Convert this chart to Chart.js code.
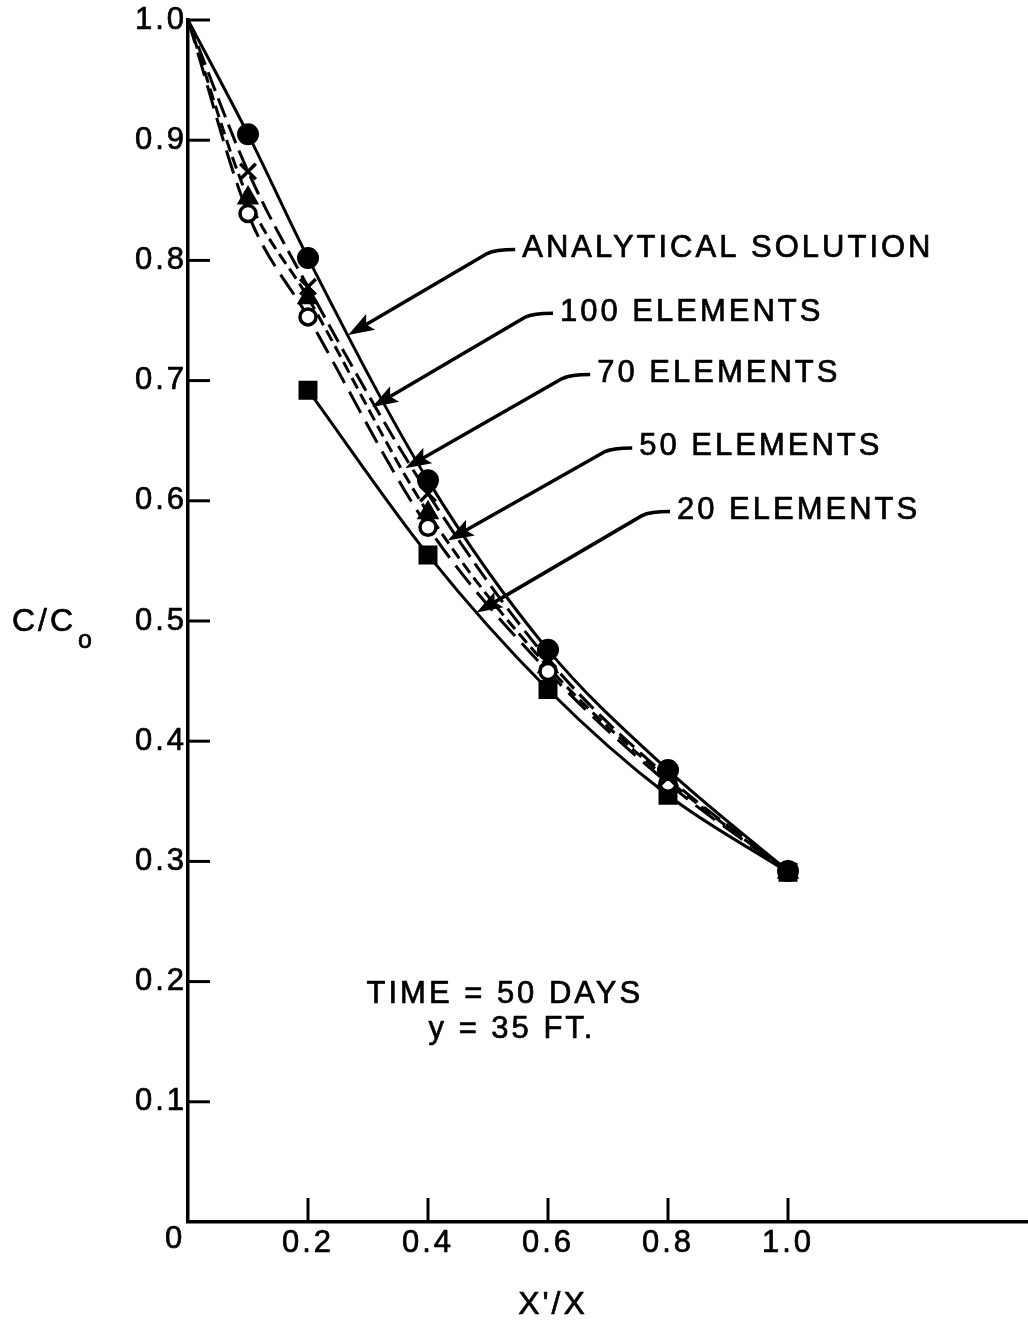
<!DOCTYPE html>
<html>
<head>
<meta charset="utf-8">
<script src="https://cdn.jsdelivr.net/npm/chart.js@4.4.1/dist/chart.umd.min.js"></script>
<style>
  html, body { margin: 0; padding: 0; background: #fff; overflow: hidden; }
  #wrap { width: 1028px; height: 1325px; }
  #chart { display: block; }
</style>
</head>
<body>
<div id="wrap"><canvas id="chart" width="1028" height="1325"></canvas></div>
<script>
// distance along the strip and relative concentration
const xPos = [0, 0.1, 0.2, 0.4, 0.6, 0.8, 1.0];
const analytical = [1.0, 0.905, 0.802, 0.617, 0.476, 0.376, 0.292];
const elements100 = [1.0, 0.874, 0.778, 0.606, 0.468, 0.370, 0.292];
const elements70 = [1.0, 0.839, 0.753, 0.578, 0.458, 0.365, 0.291];
const elements50 = [1.0, 0.852, 0.769, 0.590, 0.462, 0.368, 0.291];
const xPos20 = [0.2, 0.4, 0.6, 0.8, 1.0];
const elements20 = [0.692, 0.555, 0.443, 0.355, 0.291];

const yTicks = [0.1, 0.2, 0.3, 0.4, 0.5, 0.6, 0.7, 0.8, 0.9, 1.0];
const xTicks = [0.2, 0.4, 0.6, 0.8, 1.0];

// callouts: label, arrow tip and leader knee in data units
const callouts = [
    { text: 'ANALYTICAL SOLUTION', tip: [0.267, 0.738], knee: [0.512, 0.809] },
    { text: '100 ELEMENTS', tip: [0.307, 0.678], knee: [0.575, 0.756] },
    { text: '70 ELEMENTS', tip: [0.362, 0.627], knee: [0.637, 0.705] },
    { text: '50 ELEMENTS', tip: [0.433, 0.567], knee: [0.707, 0.644] },
    { text: '20 ELEMENTS', tip: [0.481, 0.507], knee: [0.770, 0.591] }
];

const FONT = '"Liberation Sans", Arial, sans-serif';
const TEXT_STROKE = 0.7;

function pts(xs, ys) {
    return xs.map((x, i) => ({ x: x, y: ys[i] }));
}

function series(label, xs, ys, style, radius, extra) {
    const r = xs.map(x => x === 0 ? 0 : radius);
    return Object.assign({
        label: label,
        data: pts(xs, ys),
        borderColor: '#000',
        backgroundColor: '#000',
        borderWidth: 3,
        pointStyle: style,
        pointRadius: r,
        pointHoverRadius: r,
        pointBorderWidth: 2,
        pointBorderColor: '#000',
        pointBackgroundColor: '#000',
        cubicInterpolationMode: 'monotone',
        fill: false
    }, extra || {});
}

// slightly heavy lettering: fill plus a thin outline
function heavyText(ctx, text, x, y) {
    ctx.lineWidth = TEXT_STROKE;
    ctx.fillText(text, x, y);
    ctx.strokeText(text, x, y);
}

const decorations = {
    id: 'decorations',
    beforeDraw(chart) {
        chart.ctx.letterSpacing = '3px';
    },
    afterDatasetsDraw(chart) {
        const ctx = chart.ctx;
        const xs = chart.scales.x, ys = chart.scales.y;
        const left = chart.chartArea.left, bottom = chart.chartArea.bottom;

        ctx.save();
        ctx.strokeStyle = '#000';
        ctx.fillStyle = '#000';
        ctx.lineWidth = 3;
        ctx.lineCap = 'butt';

        // inward tick marks
        yTicks.forEach(v => {
            const y = ys.getPixelForValue(v);
            ctx.beginPath();
            ctx.moveTo(left, y);
            ctx.lineTo(left + 22, y);
            ctx.stroke();
        });
        xTicks.forEach(v => {
            const x = xs.getPixelForValue(v);
            ctx.beginPath();
            ctx.moveTo(x, bottom);
            ctx.lineTo(x, bottom - 24);
            ctx.stroke();
        });

        // callout arrows and labels
        ctx.lineJoin = 'round';
        callouts.forEach(c => {
            const tx = xs.getPixelForValue(c.tip[0]), ty = ys.getPixelForValue(c.tip[1]);
            const kx = xs.getPixelForValue(c.knee[0]), ky = ys.getPixelForValue(c.knee[1]);
            const ang = Math.atan2(ty - ky, tx - kx);
            const headLen = 26, headW = 9;
            const bx = tx - Math.cos(ang) * headLen * 0.8, by = ty - Math.sin(ang) * headLen * 0.8;

            ctx.lineWidth = 3.5;
            ctx.beginPath();
            ctx.moveTo(kx + 20, ky);
            ctx.quadraticCurveTo(kx, ky, kx - 8, ky + 4);
            ctx.lineTo(bx, by);
            ctx.stroke();

            const hx = tx - Math.cos(ang) * headLen, hy = ty - Math.sin(ang) * headLen;
            const px = -Math.sin(ang) * headW, py = Math.cos(ang) * headW;
            ctx.beginPath();
            ctx.moveTo(tx, ty);
            ctx.lineTo(hx + px, hy + py);
            ctx.lineTo(bx, by);
            ctx.lineTo(hx - px, hy - py);
            ctx.closePath();
            ctx.fill();

            ctx.font = '31px ' + FONT;
            ctx.letterSpacing = '3px';
            ctx.textAlign = 'left';
            ctx.textBaseline = 'middle';
            heavyText(ctx, c.text, kx + 27, ky - 1);
        });

        // run conditions
        ctx.font = '31px ' + FONT;
        ctx.letterSpacing = '3px';
        ctx.textAlign = 'center';
        ctx.textBaseline = 'middle';
        heavyText(ctx, 'TIME = 50 DAYS', xs.getPixelForValue(0.528), ys.getPixelForValue(0.189));
        heavyText(ctx, 'y = 35 FT.', xs.getPixelForValue(0.54), ys.getPixelForValue(0.160));

        // origin label shared by both axes
        ctx.font = '31px ' + FONT;
        heavyText(ctx, '0', left - 13, bottom + 17);

        // axis titles
        ctx.font = '32px ' + FONT;
        heavyText(ctx, "X'/X", 553, 1305);
        ctx.textAlign = 'left';
        heavyText(ctx, 'C/C', 12, 622);
        ctx.font = '25px ' + FONT;
        heavyText(ctx, 'o', 78, 641);

        ctx.restore();
    }
};

const tickFont = { family: FONT, size: 31 };

new Chart(document.getElementById('chart'), {
    type: 'line',
    data: {
        datasets: [
            series('ANALYTICAL SOLUTION', xPos, analytical, 'circle', 10),
            series('100 ELEMENTS', xPos, elements100, 'crossRot', 11,
                { borderDash: [20, 8], pointBorderWidth: 3.5 }),
            series('70 ELEMENTS', xPos, elements70, 'circle', 8,
                { borderDash: [24, 10], pointBorderWidth: 3.5, pointBackgroundColor: '#fff' }),
            series('50 ELEMENTS', xPos, elements50, 'triangle', 11,
                { borderDash: [12, 6] }),
            series('20 ELEMENTS', xPos20, elements20, 'rect', 12)
        ]
    },
    options: {
        responsive: false,
        animation: false,
        events: [],
        // no extra room for marker overflow: the x axis runs to the right edge
        layout: { autoPadding: false, padding: { top: 20, right: 0, left: 0, bottom: 0 } },
        plugins: {
            legend: { display: false },
            tooltip: { enabled: false }
        },
        scales: {
            x: {
                type: 'linear',
                min: 0,
                max: 1.4,
                afterFit(scale) {
                    scale.height = 103;
                    scale.paddingLeft = 0;
                    scale.paddingRight = 0;
                },
                grid: { display: false, drawTicks: false },
                border: { display: true, color: '#000', width: 3.5 },
                ticks: {
                    stepSize: 0.2,
                    padding: 3,
                    color: '#000',
                    font: tickFont,
                    textStrokeColor: '#000',
                    textStrokeWidth: TEXT_STROKE,
                    callback: v => (v > 0.01 && v < 1.01) ? v.toFixed(1) : ''
                }
            },
            y: {
                type: 'linear',
                min: 0,
                max: 1.0,
                afterFit(scale) {
                    scale.width = 188;
                    scale.paddingTop = 0;
                    scale.paddingBottom = 0;
                },
                grid: { display: false, drawTicks: false },
                border: { display: true, color: '#000', width: 3.5 },
                ticks: {
                    stepSize: 0.1,
                    padding: 1,
                    color: '#000',
                    font: tickFont,
                    textStrokeColor: '#000',
                    textStrokeWidth: TEXT_STROKE,
                    callback: v => v > 0.01 ? v.toFixed(1) : ''
                }
            }
        }
    },
    plugins: [decorations]
});
</script>
</body>
</html>
